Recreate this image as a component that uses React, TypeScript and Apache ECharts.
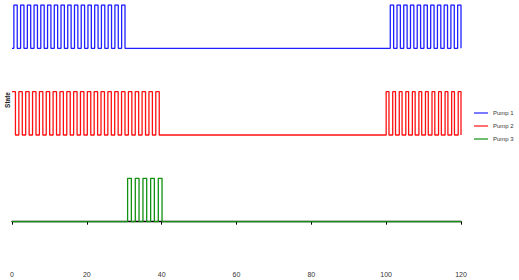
import React, { useEffect, useRef } from "react";
import * as echarts from "echarts";

const xTicks = [0, 20, 40, 60, 80, 100, 120];
const seriesNames = ["Pump 1", "Pump 2", "Pump 3"];
const colors = ["#2020ff", "#ff1010", "#119011"];

// initial state (0/1) at t = 0 and times at which each pump toggles its state
const pump1Initial = 0;
const pump1Toggles = [
  0.5, 1.4, 2.3, 3.2, 4.1, 5.0, 5.9, 6.8, 7.7, 8.6, 9.5, 10.4, 11.3, 12.2, 13.1, 14.0,
  14.9, 15.8, 16.7, 17.6, 18.5, 19.4, 20.3, 21.2, 22.1, 23.0, 23.9, 24.8, 25.7, 26.6,
  27.5, 28.4, 29.3, 30.2,
  101.1, 102.0, 102.9, 103.8, 104.7, 105.6, 106.5, 107.4, 108.3, 109.2, 110.1, 111.0,
  111.9, 112.8, 113.7, 114.6, 115.5, 116.4, 117.3, 118.2, 119.1, 120.0,
];
const pump2Initial = 1;
const pump2Toggles = [
  0.92, 1.83, 2.75, 3.66, 4.58, 5.49, 6.41, 7.32, 8.24, 9.15, 10.07, 10.98, 11.9, 12.81,
  13.73, 14.64, 15.56, 16.47, 17.39, 18.3, 19.22, 20.13, 21.05, 21.96, 22.88, 23.79,
  24.71, 25.62, 26.54, 27.45, 28.37, 29.28, 30.2, 31.11, 32.03, 32.94, 33.86, 34.77,
  35.69, 36.6, 37.52, 38.43, 39.35,
  100.0, 100.75, 101.75, 102.5, 103.5, 104.25, 105.25, 106.0, 107.0, 107.75, 108.75,
  109.5, 110.5, 111.25, 112.25, 113.0, 114.0, 114.75, 115.75, 116.5, 117.5, 118.25,
  119.25, 120.0,
];
const pump3Initial = 0;
const pump3Toggles = [
  30.9, 31.9, 32.95, 33.95, 35.0, 36.0, 37.05, 38.05, 39.1, 40.1,
];
const endTime = 120;

const initials = [pump1Initial, pump2Initial, pump3Initial];
const toggles = [pump1Toggles, pump2Toggles, pump3Toggles];
const offsets = [4, 2, 0];

function buildSteps(initial: number, times: number[], offset: number) {
  const pts: number[][] = [[0, initial + offset]];
  let s = initial;
  for (const t of times) {
    s = 1 - s;
    pts.push([t, s + offset]);
  }
  if (pts[pts.length - 1][0] < endTime) pts.push([endTime, s + offset]);
  return pts;
}

export default function App() {
  const ref = useRef<HTMLDivElement>(null);
  useEffect(() => {
    if (!ref.current) return;
    const chart = echarts.init(ref.current, null, { renderer: "svg" });
    chart.setOption({
      animation: false,
      backgroundColor: "#ffffff",
      grid: { left: 12, right: 58, top: 5, bottom: 15, containLabel: false },
      xAxis: {
        type: "value",
        min: 0,
        max: 120,
        interval: 20,
        axisLine: { show: true, lineStyle: { color: "#000", width: 1.3 } },
        axisTick: { show: true, length: 3, lineStyle: { color: "#000", width: 1 } },
        axisLabel: {
          fontSize: 7,
          color: "#333",
          margin: 6,
          fontFamily: "Liberation Sans",
          formatter: (v: number) => (xTicks.includes(v) ? String(v) : ""),
        },
        splitLine: { show: false },
      },
      yAxis: {
        type: "value",
        min: -1,
        max: 5,
        axisLine: { show: false },
        axisTick: { show: false },
        axisLabel: { show: false },
        splitLine: { show: false },
      },
      legend: {
        orient: "vertical",
        left: 474,
        top: 109,
        icon: "rect",
        itemWidth: 14,
        itemHeight: 1.2,
        itemGap: 5,
        padding: 0,
        textStyle: { fontSize: 6, color: "#333", fontFamily: "Liberation Sans", lineHeight: 8 },
        data: seriesNames,
      },
      graphic: [
        {
          type: "text",
          x: 7,
          y: 100,
          rotation: Math.PI / 2,
          style: {
            text: "State",
            fontSize: 6.5,
            fontWeight: "bold",
            fontFamily: "Liberation Sans",
            fill: "#222",
            align: "center",
            verticalAlign: "middle",
          },
        },
      ],
      series: seriesNames.map((name, i) => ({
        name,
        type: "line",
        step: "end",
        symbol: "none",
        color: colors[i],
        lineStyle: { color: colors[i], width: 1.3 },
        data: buildSteps(initials[i], toggles[i], offsets[i]),
      })),
    });
    return () => chart.dispose();
  }, []);
  return <div ref={ref} style={{ width: 519, height: 280, position: "absolute", left: 0, top: 0 }} />;
}
